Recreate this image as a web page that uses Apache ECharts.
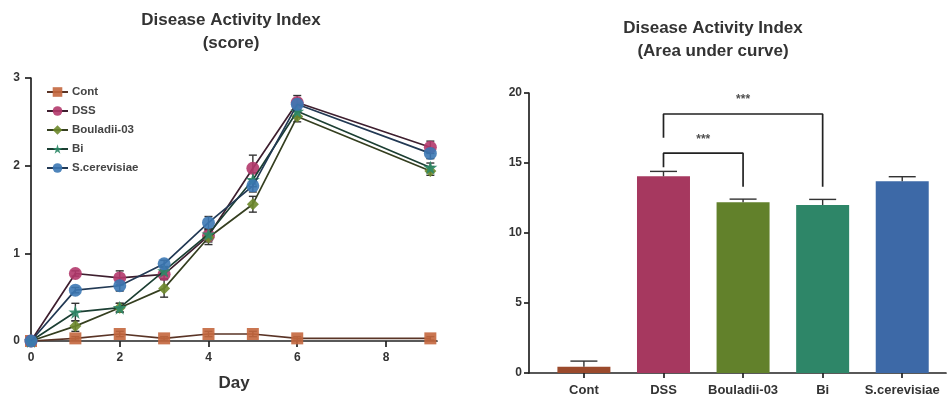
<!DOCTYPE html>
<html>
<head>
<meta charset="utf-8">
<script src="https://cdn.jsdelivr.net/npm/echarts@6/dist/echarts.min.js"></script>
<style>
  html, body { margin: 0; padding: 0; background: #ffffff; }
  #chart { width: 948px; height: 397px; }
</style>
</head>
<body>
<div id="chart"></div>
<script>
// ---- Disease Activity Index over time (score) ----
const days = [0, 1, 2, 3, 4, 5, 6, 9];
const groupNames = ['Cont', 'DSS', 'Bouladii-03', 'Bi', 'S.cerevisiae'];

const scoreCont  = [0, 0.03, 0.08, 0.03, 0.08, 0.08, 0.03, 0.03];
const scoreDSS   = [0, 0.77, 0.72, 0.76, 1.20, 1.97, 2.72, 2.21];
const scoreBoul  = [0, 0.17, 0.38, 0.60, 1.18, 1.56, 2.56, 1.94];
const scoreBi    = [0, 0.33, 0.38, 0.80, 1.22, 1.84, 2.62, 1.98];
const scoreScer  = [0, 0.58, 0.63, 0.88, 1.35, 1.77, 2.70, 2.14];

const errCont = [0, 0.02, 0.03, 0.02, 0.03, 0.03, 0.02, 0.02];
const errDSS  = [0, 0.03, 0.08, 0.05, 0.07, 0.15, 0.08, 0.07];
const errBoul = [0, 0.06, 0.05, 0.10, 0.08, 0.09, 0.06, 0.05];
const errBi   = [0, 0.10, 0.05, 0.05, 0.06, 0.08, 0.06, 0.05];
const errScer = [0, 0.03, 0.06, 0.04, 0.07, 0.07, 0.06, 0.06];

const dayTicks = [0, 2, 4, 6, 8];
const scoreTicks = [0, 1, 2, 3];

// ---- Area under curve ----
const aucValues = [0.45, 14.05, 12.2, 12.0, 13.7];
const aucErrors = [0.40, 0.35, 0.22, 0.40, 0.32];
const aucTicks = [0, 5, 10, 15, 20];

// significance brackets: from/to group index, bracket height, leg ends, label
const bracketFrom  = [1, 1];
const bracketTo    = [2, 3];
const bracketTop   = [15.7, 18.5];
const bracketLeftY = [14.7, 16.8];
const bracketRightY= [13.3, 13.3];
const bracketText  = ['***', '***'];

const symbolColors = ['#c4673e', '#b2386b', '#6e8a2c', '#2f8a68', '#3c78b4'];
const lineColors   = ['#5a3426', '#3e1f2f', '#353f20', '#1c3f33', '#223954'];
const barColors    = ['#9b4a2c', '#a6385f', '#62812b', '#2e8668', '#3d69a7'];
const starPath = 'path://M50,0 L61,35 L98,35 L68,57 L79,91 L50,70 L21,91 L32,57 L2,35 L39,35 Z';
const symbols = ['rect', 'circle', 'diamond', starPath, 'circle'];
const symbolSizes = [12, 13, 12, 14, 13];

const scores = [scoreCont, scoreDSS, scoreBoul, scoreBi, scoreScer];
const errs = [errCont, errDSS, errBoul, errBi, errScer];

const font = '"Liberation Sans", Arial, sans-serif';
const axisColor = '#222';

function errorBarSeries(xIdx, yIdx, data, capHalf, upOnly, z) {
  return {
    type: 'custom',
    xAxisIndex: xIdx, yAxisIndex: yIdx,
    silent: true, z: z,
    data: data,
    renderItem: function (params, api) {
      const x = api.value(0), y = api.value(1), e = api.value(2);
      if (!e) return null;
      const top = api.coord([x, y + e]);
      const bot = api.coord(upOnly ? [x, y] : [x, y - e]);
      const children = [
        { type: 'line', shape: { x1: top[0], y1: top[1], x2: bot[0], y2: bot[1] },
          style: { stroke: '#333', lineWidth: 1.4 } },
        { type: 'line', shape: { x1: top[0] - capHalf, y1: top[1], x2: top[0] + capHalf, y2: top[1] },
          style: { stroke: '#333', lineWidth: 1.4 } }
      ];
      if (!upOnly) {
        children.push({ type: 'line', shape: { x1: bot[0] - capHalf, y1: bot[1], x2: bot[0] + capHalf, y2: bot[1] },
          style: { stroke: '#333', lineWidth: 1.4 } });
      }
      return { type: 'group', children: children };
    }
  };
}

const series = [];
scores.forEach(function (vals, i) {
  series.push({
    name: groupNames[i],
    type: 'line',
    xAxisIndex: 0, yAxisIndex: 0,
    data: days.map(function (d, k) { return [d, vals[k]]; }),
    symbol: symbols[i],
    symbolSize: symbolSizes[i],
    showAllSymbol: true,
    itemStyle: { color: symbolColors[i], opacity: 0.9 },
    lineStyle: { color: lineColors[i], width: 1.7 },
    z: 3 + i
  });
  series.push(errorBarSeries(0, 0, days.map(function (d, k) { return [d, vals[k], errs[i][k]]; }), 4, false, 2));
});

// bars on a value axis so that category centres sit where the scale puts them
series.push({
  type: 'bar',
  xAxisIndex: 1, yAxisIndex: 1,
  barWidth: 53,
  data: aucValues.map(function (v, i) {
    return { value: [i, v], itemStyle: { color: barColors[i] } };
  }),
  z: 2
});
series.push(errorBarSeries(1, 1, aucValues.map(function (v, i) { return [i, v, aucErrors[i]]; }), 13.5, true, 3));

// significance brackets
bracketFrom.forEach(function (f, j) {
  const t = bracketTo[j];
  series.push({
    type: 'line',
    xAxisIndex: 1, yAxisIndex: 1,
    silent: true,
    symbol: 'none',
    lineStyle: { color: '#222', width: 1.7 },
    data: [[f, bracketLeftY[j]], [f, bracketTop[j]], [t, bracketTop[j]], [t, bracketRightY[j]]],
    z: 4
  });
  series.push({
    type: 'scatter',
    xAxisIndex: 1, yAxisIndex: 1,
    silent: true,
    symbolSize: 0,
    data: [[(f + t) / 2, bracketTop[j]]],
    label: {
      show: true, position: 'top', distance: 8,
      formatter: bracketText[j],
      color: '#222', fontFamily: font, fontWeight: 'bold', fontSize: 12
    },
    z: 4
  });
});

const chart = echarts.init(document.getElementById('chart'), null, { renderer: 'canvas' });
chart.setOption({
  animation: false,
  backgroundColor: '#ffffff',
  graphic: [
    { type: 'text', x: 231, y: 9, style: { text: 'Disease Activity Index\n(score)', align: 'center',
      font: 'bold 17px ' + font, fill: '#333', lineHeight: 23 } },
    { type: 'text', x: 713, y: 17, style: { text: 'Disease Activity Index\n(Area under curve)', align: 'center',
      font: 'bold 17px ' + font, fill: '#333', lineHeight: 23 } }
  ],
  legend: {
    data: groupNames,
    orient: 'vertical',
    left: 41, top: 81,
    itemWidth: 21, itemHeight: 12, itemGap: 7,
    textStyle: { color: '#444', fontFamily: font, fontWeight: 'bold', fontSize: 11.5, padding: [0, 0, 0, -1] }
  },
  grid: [
    { left: 31, right: 511, top: 78, bottom: 52 },
    { left: 529, right: 2, top: 93, bottom: 21 }
  ],
  xAxis: [
    {
      type: 'value', gridIndex: 0, min: 0, max: 9.15,
      name: 'Day', nameLocation: 'middle', nameGap: 34,
      nameTextStyle: { color: '#333', fontFamily: font, fontWeight: 'bold', fontSize: 17 },
      splitLine: { show: false },
      axisLine: { show: true, onZero: false, lineStyle: { color: axisColor, width: 1.7 } },
      axisTick: { show: true, inside: false, length: 6, customValues: dayTicks, lineStyle: { color: axisColor, width: 1.7 } },
      axisLabel: { customValues: dayTicks, color: '#333', fontFamily: font, fontWeight: 'bold', fontSize: 12, margin: 11 }
    },
    {
      type: 'value', gridIndex: 1, min: -0.69, max: 4.55,
      splitLine: { show: false },
      axisLine: { show: true, onZero: false, lineStyle: { color: axisColor, width: 1.7 } },
      axisTick: { show: true, length: 5, customValues: [0, 1, 2, 3, 4], lineStyle: { color: axisColor, width: 1.7 } },
      axisLabel: {
        customValues: [0, 1, 2, 3, 4],
        formatter: function (v) { return groupNames[Math.round(v)]; },
        color: '#333', fontFamily: font, fontWeight: 'bold', fontSize: 13, margin: 11
      }
    }
  ],
  yAxis: [
    {
      type: 'value', gridIndex: 0, min: 0, max: 3, interval: 1,
      splitLine: { show: false },
      axisLine: { show: true, onZero: false, lineStyle: { color: axisColor, width: 1.7 } },
      axisTick: { show: true, length: 6, customValues: scoreTicks, lineStyle: { color: axisColor, width: 1.7 } },
      axisLabel: { customValues: scoreTicks, color: '#333', fontFamily: font, fontWeight: 'bold', fontSize: 12, margin: 11 }
    },
    {
      type: 'value', gridIndex: 1, min: 0, max: 20, interval: 5,
      splitLine: { show: false },
      axisLine: { show: true, onZero: false, lineStyle: { color: axisColor, width: 1.7 } },
      axisTick: { show: true, length: 5, customValues: aucTicks, lineStyle: { color: axisColor, width: 1.7 } },
      axisLabel: { customValues: aucTicks, color: '#333', fontFamily: font, fontWeight: 'bold', fontSize: 12, margin: 7 }
    }
  ],
  series: series
});
</script>
</body>
</html>
